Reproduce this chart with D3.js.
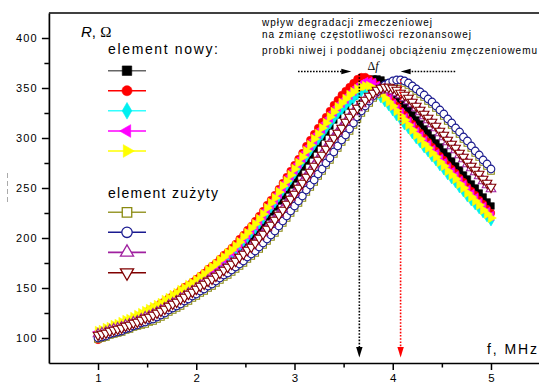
<!DOCTYPE html>
<html>
<head>
<meta charset="utf-8">
<script src="https://cdn.jsdelivr.net/npm/d3@7"></script>
<style>
  html, body { margin: 0; padding: 0; background: #fff; }
  svg { display: block; font-family: "Liberation Sans", Arial, sans-serif; }
</style>
</head>
<body>
<svg id="chart" width="539" height="385"></svg>
<script>
// Frequency grid, MHz
const freq = [1.00,1.04,1.08,1.12,1.16,1.20,1.24,1.28,1.32,1.36,1.40,1.44,1.48,1.52,1.56,1.60,1.64,1.68,1.72,1.76,
  1.80,1.84,1.88,1.92,1.96,2.00,2.04,2.08,2.12,2.16,2.20,2.24,2.28,2.32,2.36,2.40,2.44,2.48,2.52,2.56,
  2.60,2.64,2.68,2.72,2.76,2.80,2.84,2.88,2.92,2.96,3.00,3.04,3.08,3.12,3.16,3.20,3.24,3.28,3.32,3.36,
  3.40,3.44,3.48,3.52,3.56,3.60,3.64,3.68,3.72,3.76,3.80,3.84,3.88,3.92,3.96,4.00,4.04,4.08,4.12,4.16,
  4.20,4.24,4.28,4.32,4.36,4.40,4.44,4.48,4.52,4.56,4.60,4.64,4.68,4.72,4.76,4.80,4.84,4.88,4.92,4.96,5.00];

// Resistance R [Ohm], new elements
const newBlack = [103,104,105,107,108,109,111,112,114,115,117,119,121,122,124,126,128,131,133,136,138,
  141,143,146,148,151,154,157,161,164,167,171,174,178,181,185,189,193,197,201,205,210,215,221,226,231,
  237,242,248,253,259,265,271,277,283,289,295,301,306,312,318,323,328,332,337,342,346,350,354,357,359,
  359,358,355,351,346,341,337,332,328,323,318,314,309,305,300,295,291,286,282,277,272,268,263,259,254,
  250,245,241,236,232];
const newRed = [98,100,103,105,108,110,112,114,117,119,121,123,125,128,130,132,135,137,140,142,145,
  148,151,153,156,159,162,165,169,172,175,179,183,186,190,194,199,203,208,212,217,222,227,233,238,243,
  249,255,261,267,273,279,285,292,298,304,310,316,321,327,333,338,343,347,351,355,359,361,361,359,356,
  353,349,345,341,336,332,327,323,318,314,309,305,300,296,291,287,282,278,273,269,265,260,256,251,247,
  243,238,234,229,225];
const newCyan = [104,105,107,108,110,111,113,114,116,117,119,121,123,125,127,129,131,134,136,139,141,
  144,146,149,151,154,157,160,164,167,170,174,177,181,184,188,192,197,201,206,210,215,220,226,231,236,
  242,248,253,259,265,271,277,282,288,294,299,304,310,315,320,325,329,333,337,340,344,347,349,349,347,
  344,341,337,333,328,323,319,314,310,305,300,296,291,287,282,278,273,269,264,260,256,251,247,242,238,
  234,230,226,222,218];
const newMagenta = [106,107,109,110,112,113,115,116,118,119,121,123,125,127,129,131,133,136,138,141,143,
  146,148,151,153,156,159,162,166,169,172,176,179,183,186,190,194,199,203,208,212,217,222,228,233,238,
  244,250,256,262,268,274,280,286,292,298,304,309,315,320,326,331,335,339,343,347,351,354,356,356,355,
  352,348,344,339,334,329,325,320,316,311,306,302,297,293,288,284,279,275,270,266,262,257,253,248,244,
  240,235,231,226,222];
const newYellow = [107,108,110,111,113,114,116,118,119,121,123,125,127,129,131,133,135,138,140,143,145,
  148,150,153,155,158,161,164,168,171,174,178,181,185,188,192,196,201,205,210,214,219,224,230,235,240,
  246,252,257,263,269,275,281,287,293,299,304,310,315,321,326,331,335,339,343,346,349,351,352,352,350,
  347,344,340,336,332,327,322,318,313,308,303,299,294,290,285,281,276,272,267,263,259,254,250,245,241,
  237,233,228,224,220];

// Resistance R [Ohm], fatigued (used) elements
const usedOlive = [99,100,101,103,104,105,106,108,109,111,112,113,114,116,117,119,121,123,126,128,130,
  132,135,137,140,142,145,147,150,152,155,158,161,163,166,169,172,175,179,182,185,189,193,197,201,205,
  210,215,220,225,230,235,240,246,251,256,262,267,273,278,284,290,296,301,307,313,319,325,330,335,340,
  344,348,351,353,355,356,356,355,353,350,347,344,341,337,334,330,326,322,317,313,308,304,299,295,290,
  285,281,276,272,267];
const usedBlue = [100,101,102,104,105,106,107,109,110,112,113,115,116,118,119,121,123,125,128,130,132,
  134,137,139,142,144,147,149,152,154,157,160,163,165,168,171,174,177,181,184,187,191,195,199,203,207,
  212,217,222,227,232,237,242,248,253,258,264,269,275,280,286,292,298,303,309,315,321,327,332,337,342,
  346,350,353,355,357,358,358,357,355,352,349,346,343,339,336,332,328,324,319,315,310,306,301,297,292,
  287,283,278,274,269];
const usedPurple = [104,105,106,108,109,110,111,113,114,116,117,119,121,122,124,126,128,130,133,135,137,
  140,142,145,147,150,153,155,158,160,163,166,169,172,175,178,182,185,189,192,196,201,205,210,214,219,
  224,229,235,240,245,251,256,262,267,273,279,284,290,295,301,306,311,316,321,326,330,334,338,341,344,
  347,348,349,348,347,345,343,340,337,334,330,326,322,318,314,310,305,301,296,292,288,283,279,274,270,
  266,262,257,253,249];
const usedBrown = [103,104,105,107,108,109,110,112,113,115,116,118,120,121,123,125,127,129,132,134,136,
  139,141,144,146,149,152,154,157,159,162,165,168,171,174,177,181,184,188,191,195,200,204,209,213,218,
  223,228,234,239,244,250,255,261,266,272,278,283,289,294,300,305,310,316,321,326,330,334,338,342,345,
  348,350,351,351,350,348,345,343,340,336,332,328,324,320,316,312,307,303,298,294,290,285,281,276,272,
  268,264,259,255,251];

const yTicks = [100, 150, 200, 250, 300, 350, 400];
const yMinor = [125, 175, 225, 275, 325, 375];
const xTicks = [1, 2, 3, 4, 5];
const xMinor = [1.5, 2.5, 3.5, 4.5];
const titleNew = "element nowy:";
const titleUsed = "element zużyty";
const noteLines = [
  "wpływ degradacji zmeczeniowej",
  "na zmianę częstotliwości rezonansowej",
  "probki niwej i poddanej obciążeniu zmęczeniowemu"
];
// resonance frequencies of the new and the fatigued sample, MHz
const fResNew = 3.66;
const fResUsed = 4.08;

const svg = d3.select("#chart");
const x = d3.scaleLinear().domain([0.5, 5.5]).range([48.9, 540.1]);
const y = d3.scaleLinear().domain([75, 425]).range([363, 13]);

// series styling
const series = [
  { v: newBlack,   stroke: "#000000", line: "#666666", fill: "#000000", sym: d3.symbolSquare,   rot: 0,   size: 44 },
  { v: newRed,     stroke: "#ff0000", line: "#ff0000", fill: "#ff0000", sym: d3.symbolCircle,   rot: 0,   size: 44 },
  { v: newCyan,    stroke: "#00f0f0", line: "#33ffff", fill: "#00f0f0", sym: d3.symbolDiamond,  rot: 0,   size: 42 },
  { v: newMagenta, stroke: "#ff00ff", line: "#ff00ff", fill: "#ff00ff", sym: d3.symbolTriangle, rot: -90, size: 38 },
  { v: newYellow,  stroke: "#ffff00", line: "#ffff00", fill: "#ffff00", sym: d3.symbolTriangle, rot: 90,  size: 38 },
  { v: usedOlive,  stroke: "#8a8a10", line: "#9a9a30", fill: "#ffffff", sym: d3.symbolSquare,   rot: 0,   size: 44 },
  { v: usedBlue,   stroke: "#1a1a90", line: "#1a1a90", fill: "#ffffff", sym: d3.symbolCircle,   rot: 0,   size: 46 },
  { v: usedPurple, stroke: "#a020a0", line: "#a020a0", fill: "#ffffff", sym: d3.symbolTriangle, rot: 0,   size: 40 },
  { v: usedBrown,  stroke: "#800000", line: "#800000", fill: "#ffffff", sym: d3.symbolTriangle, rot: 180, size: 40 }
];
const legendSizes = [90, 80, 80, 70, 70, 90, 85, 75, 75];

// axes
const axisStyle = g => {
  g.selectAll("path.domain").attr("stroke", "#000").attr("stroke-width", 1.7);
  g.selectAll(".tick line").attr("stroke", "#000").attr("stroke-width", 1.5);
};

const gy = svg.append("g").attr("transform", "translate(48.9,0)")
  .call(d3.axisLeft(y).tickValues(yTicks).tickSize(7).tickSizeOuter(0).tickPadding(4))
  .call(axisStyle);
gy.selectAll("text").attr("font-size", 11).attr("letter-spacing", 1.2)
  .attr("font-family", "Liberation Sans, Arial, sans-serif").attr("fill", "#000");
svg.append("g").attr("transform", "translate(48.9,0)")
  .call(d3.axisLeft(y).tickValues(yMinor).tickSize(4.5).tickSizeOuter(0).tickFormat(""))
  .call(axisStyle).select("path.domain").remove();

const gx = svg.append("g").attr("transform", "translate(0,363)")
  .call(d3.axisBottom(x).tickValues(xTicks).tickFormat(d3.format("d")).tickSize(7).tickSizeOuter(0).tickPadding(3.6))
  .call(axisStyle);
gx.selectAll("text").attr("font-size", 11.5)
  .attr("font-family", "Liberation Sans, Arial, sans-serif").attr("fill", "#000");
svg.append("g").attr("transform", "translate(0,363)")
  .call(d3.axisBottom(x).tickValues(xMinor).tickSize(4.5).tickSizeOuter(0).tickFormat(""))
  .call(axisStyle).select("path.domain").remove();

// top frame line
svg.append("line").attr("x1", x(0.5)).attr("x2", x(5.5)).attr("y1", y(425)).attr("y2", y(425))
  .attr("stroke", "#000").attr("stroke-width", 1.7);

// remnant of the rotated axis caption at the far left
svg.append("line").attr("x1", 7.5).attr("x2", 7.5).attr("y1", 173).attr("y2", 203)
  .attr("stroke", "#aaaaaa").attr("stroke-width", 1).attr("stroke-dasharray", "5,3");

// data curves
const plot = svg.append("g");
const lineGen = d3.line().x((d, i) => x(freq[i])).y(d => y(d));
series.forEach(s => {
  const g = plot.append("g");
  g.append("path").datum(s.v).attr("d", lineGen).attr("fill", "none")
    .attr("stroke", s.line).attr("stroke-width", 1);
  const sym = d3.symbol().type(s.sym).size(s.size);
  g.selectAll("path.m").data(s.v).join("path").attr("class", "m")
    .attr("d", sym)
    .attr("transform", (d, i) => `translate(${x(freq[i])},${y(d)}) rotate(${s.rot})`)
    .attr("fill", s.fill).attr("stroke", s.stroke).attr("stroke-width", s.fill === "#ffffff" ? 1.1 : 0.6);
});

// resonance markers: dotted drop lines with arrow heads
function dropArrow(f, top, color) {
  const xx = x(f);
  svg.append("line").attr("x1", xx).attr("x2", xx).attr("y1", top).attr("y2", 349)
    .attr("stroke", color).attr("stroke-width", 1.6).attr("stroke-dasharray", "1.6,1.6");
  svg.append("path").attr("d", `M${xx - 3.2},347 L${xx + 3.2},347 L${xx},357.5 Z`).attr("fill", color);
}
dropArrow(fResNew, 74, "#000");
dropArrow(fResUsed, 79, "#ff0000");

// horizontal Δf arrows
const arrY = 71.5;
const leftTip = x(fResNew) - 8, rightTip = x(fResUsed);
svg.append("line").attr("x1", 298).attr("x2", leftTip - 8).attr("y1", arrY).attr("y2", arrY)
  .attr("stroke", "#000").attr("stroke-width", 1.3).attr("stroke-dasharray", "1.6,1.4");
svg.append("path").attr("d", `M${leftTip - 10},${arrY - 2.8} L${leftTip},${arrY} L${leftTip - 10},${arrY + 2.8} Z`).attr("fill", "#000");
svg.append("line").attr("x1", rightTip + 8).attr("x2", 456).attr("y1", arrY).attr("y2", arrY)
  .attr("stroke", "#000").attr("stroke-width", 1.3).attr("stroke-dasharray", "1.6,1.4");
svg.append("path").attr("d", `M${rightTip + 10},${arrY - 2.8} L${rightTip},${arrY} L${rightTip + 10},${arrY + 2.8} Z`).attr("fill", "#000");

const df = svg.append("text").attr("x", 373).attr("y", 69.5).attr("text-anchor", "middle")
  .attr("font-family", "Liberation Serif, Times New Roman, serif").attr("font-size", 12).attr("fill", "#000");
df.append("tspan").text("Δ");
df.append("tspan").attr("font-style", "italic").text("f");

// annotation
const noteY = [26.3, 37.8, 54.3];
const noteW = [170, 209, 275];
noteLines.forEach((t, i) => {
  svg.append("text").attr("x", 262).attr("y", noteY[i]).attr("font-size", 10)
    .attr("textLength", noteW[i]).attr("lengthAdjust", "spacing").attr("fill", "#000").text(t);
});

// axis captions
const rl = svg.append("text").attr("x", 81).attr("y", 36.5).attr("font-size", 15).attr("fill", "#000");
rl.append("tspan").attr("font-style", "italic").text("R");
rl.append("tspan").text(", ");
rl.append("tspan").attr("font-family", "Liberation Serif, Times New Roman, serif").text("Ω");

svg.append("text").attr("x", 487).attr("y", 354).attr("font-size", 14)
  .attr("textLength", 50).attr("lengthAdjust", "spacing").attr("fill", "#000").text("f, MHz");

// legend
svg.append("text").attr("x", 108).attr("y", 54.3).attr("font-size", 14)
  .attr("textLength", 110).attr("lengthAdjust", "spacing").attr("fill", "#000").text(titleNew);
svg.append("text").attr("x", 108).attr("y", 198.3).attr("font-size", 14)
  .attr("textLength", 110).attr("lengthAdjust", "spacing").attr("fill", "#000").text(titleUsed);

const legendY = [70.7, 90.7, 110.8, 131, 151, 212.3, 232.3, 252.4, 272.7];
series.forEach((s, i) => {
  const ly = legendY[i];
  svg.append("line").attr("x1", 108).attr("x2", 146).attr("y1", ly).attr("y2", ly)
    .attr("stroke", s.line).attr("stroke-width", 1.6);
  svg.append("path").attr("d", d3.symbol().type(s.sym).size(legendSizes[i])())
    .attr("transform", `translate(127,${ly}) rotate(${s.rot})`)
    .attr("fill", s.fill).attr("stroke", s.stroke).attr("stroke-width", s.fill === "#ffffff" ? 1.3 : 0.6);
});
</script>
</body>
</html>
